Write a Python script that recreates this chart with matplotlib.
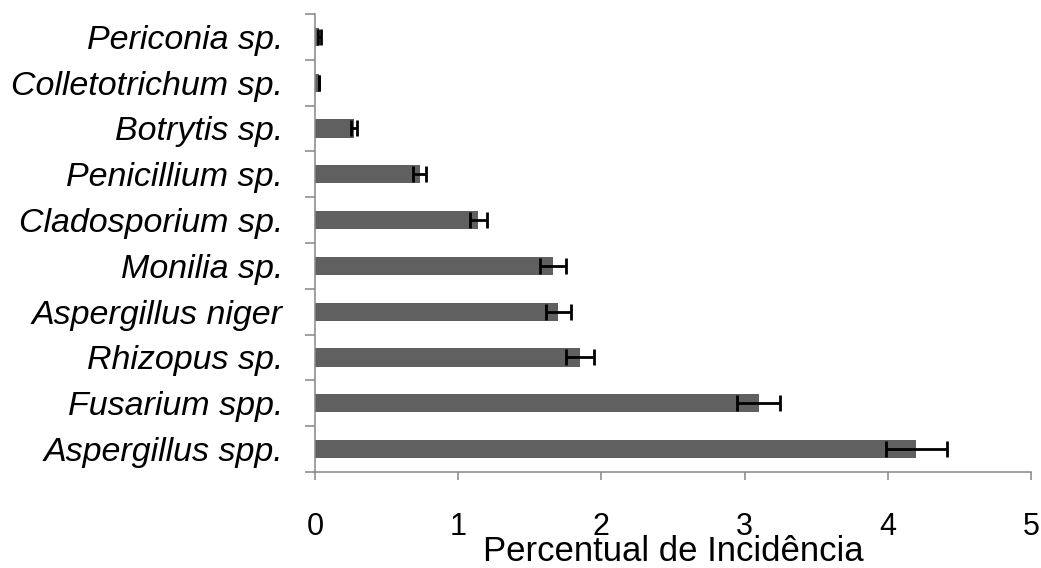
import matplotlib.pyplot as plt
import numpy as np

# dados (de baixo para cima)
fungos = ['Aspergillus spp.', 'Fusarium spp.', 'Rhizopus sp.', 'Aspergillus niger',
          'Monilia sp.', 'Cladosporium sp.', 'Penicillium sp.', 'Botrytis sp.',
          'Colletotrichum sp.', 'Periconia sp.']
incidencia = [4.20, 3.10, 1.85, 1.70, 1.66, 1.14, 0.73, 0.27, 0.03, 0.03]
erro = [0.21, 0.15, 0.095, 0.09, 0.09, 0.06, 0.045, 0.02, 0.0, 0.01]

plt.rcParams['font.family'] = ['Liberation Sans', 'DejaVu Sans']

fig = plt.figure(figsize=(10.41, 5.68), dpi=100)
ax = fig.add_axes([0.3026, 0.169, 0.6878, 0.8064])

y = np.arange(len(fungos))
ax.barh(y, incidencia, height=0.4, color='#606060', zorder=2)
ax.errorbar(incidencia, y, xerr=erro, fmt='none', ecolor='black',
            elinewidth=2, capsize=5.5, capthick=2, zorder=3)

ax.set_xlim(0, 5)
ax.set_ylim(-0.5, len(fungos) - 0.5)

ax.set_yticks(y)
ax.set_yticklabels(fungos, fontstyle='italic', fontsize=24.5)
ax.set_yticks(np.arange(-0.5, len(fungos), 1), minor=True)
ax.tick_params(axis='y', which='major', length=0, pad=23)
ax.tick_params(axis='y', which='minor', length=7, width=1.1, color='#868686')

ax.set_xticks(range(0, 6))
ax.tick_params(axis='x', length=6, width=1.1, color='#868686', labelsize=22, pad=23)
ax.set_xlabel('Percentual de Incidência', fontsize=25)
ax.xaxis.set_label_coords(0.5, -0.137)

for s in ['top', 'right']:
    ax.spines[s].set_visible(False)
for s in ['left', 'bottom']:
    ax.spines[s].set_color('#868686')
    ax.spines[s].set_linewidth(1.1)

fig.savefig('out.png', dpi=100)
